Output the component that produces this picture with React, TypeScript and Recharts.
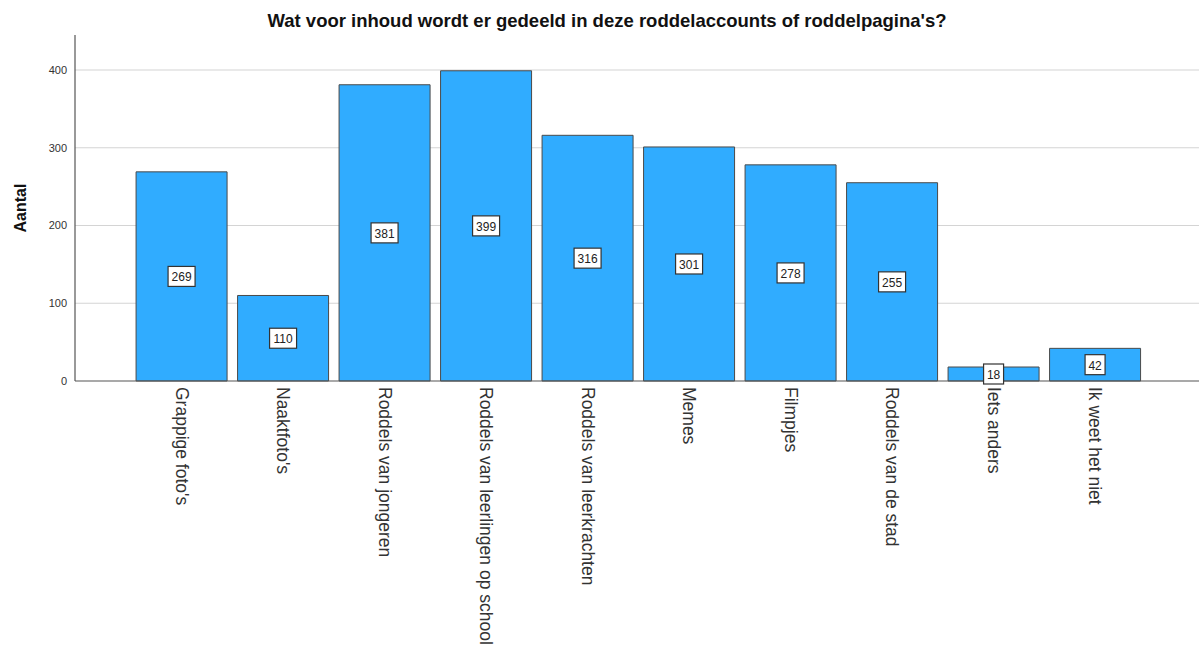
import React from 'react';
import { BarChart, Bar, XAxis, YAxis, CartesianGrid, LabelList } from 'recharts';

const categories = [
  "Grappige foto's",
  "Naaktfoto's",
  'Roddels van jongeren',
  'Roddels van leerlingen op school',
  'Roddels van leerkrachten',
  'Memes',
  'Filmpjes',
  'Roddels van de stad',
  'Iets anders',
  'Ik weet het niet',
];
const counts = [269, 110, 381, 399, 316, 301, 278, 255, 18, 42];
const yTicks = [0, 100, 200, 300, 400];
const gridValues = [100, 200, 300, 400];

const data = categories.map((name, i) => ({ name, aantal: counts[i] }));

const FONT = '"Liberation Sans", Arial, sans-serif';

const RotatedTick = (props: any) => {
  const { x, y, payload } = props;
  const ty = y - 2;
  return (
    <text
      x={x}
      y={ty}
      transform={`rotate(90, ${x}, ${ty})`}
      textAnchor="start"
      dominantBaseline="central"
      fontSize={17.5}
      fontFamily={FONT}
      fill="#333"
    >
      {payload.value}
    </text>
  );
};

const BoxLabel = (props: any) => {
  const { x, y, width, height, value } = props;
  const cx = x + width / 2;
  const cy = y + height / 2;
  const w = String(value).length * 7 + 6;
  return (
    <g>
      <rect x={cx - w / 2} y={cy - 10} width={w} height={20} fill="#fff" stroke="#333" strokeWidth={1.2} />
      <text x={cx} y={cy + 1} textAnchor="middle" dominantBaseline="central" fontSize={12} fontFamily={FONT} fill="#222">
        {value}
      </text>
    </g>
  );
};

export default function App() {
  return (
    <div style={{ position: 'absolute', left: 0, top: 0, width: 1199, height: 652, background: '#fff', fontFamily: FONT }}>
      <div
        style={{
          position: 'absolute',
          left: 0,
          top: 10,
          width: 1214,
          textAlign: 'center',
          fontSize: 18.5,
          fontWeight: 'bold',
          color: '#111',
        }}
      >
        Wat voor inhoud wordt er gedeeld in deze roddelaccounts of roddelpagina's?
      </div>
      <BarChart
        width={1199}
        height={652}
        data={data}
        margin={{ top: 35, right: 0, bottom: 0, left: 0 }}
        barCategoryGap="5%"
      >
        <CartesianGrid horizontal vertical={false} horizontalValues={gridValues} stroke="#d4d4d4" strokeWidth={1.2} />
        <XAxis
          dataKey="name"
          interval={0}
          height={271}
          padding={{ left: 56, right: 53 }}
          axisLine={{ stroke: '#555', strokeWidth: 1.2 }}
          tickLine={false}
          tick={<RotatedTick />}
        />
        <YAxis
          width={75}
          domain={[0, 445]}
          ticks={yTicks}
          axisLine={{ stroke: '#555', strokeWidth: 1.2 }}
          tickLine={false}
          tick={{ fontSize: 11, fill: '#333', fontFamily: FONT }}
          label={{
            value: 'Aantal',
            angle: -90,
            position: 'insideLeft',
            offset: 20,
            style: { textAnchor: 'middle', fontSize: 16, fontWeight: 'bold', fill: '#111', fontFamily: FONT },
          }}
        />
        <Bar dataKey="aantal" fill="#30acff" stroke="#4a4a4a" strokeWidth={1} isAnimationActive={false}>
          <LabelList dataKey="aantal" content={<BoxLabel />} />
        </Bar>
      </BarChart>
    </div>
  );
}
